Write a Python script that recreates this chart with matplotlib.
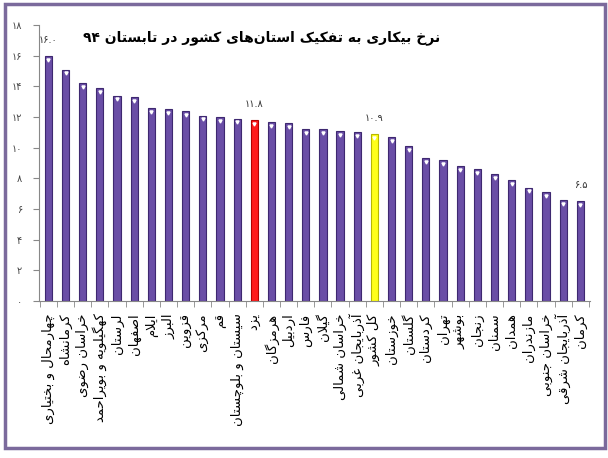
import re
import unicodedata
import numpy as np
import matplotlib
matplotlib.use("Agg")
import matplotlib.pyplot as plt
from matplotlib.patches import Rectangle

title = "نرخ بیکاری به تفکیک استان‌های کشور در تابستان ۹۴"
provinces = [
    "چهارمحال و بختیاری", "کرمانشاه", "خراسان رضوی", "کهگیلویه و بویراحمد",
    "لرستان", "اصفهان", "ایلام", "البرز", "قزوین", "مرکزی", "قم",
    "سیستان و بلوچستان", "یزد", "هرمزگان", "اردبیل", "فارس", "گیلان",
    "خراسان شمالی", "آذربایجان غربی", "کل کشور", "خوزستان", "گلستان",
    "کردستان", "تهران", "بوشهر", "زنجان", "سمنان", "همدان", "مازندران",
    "خراسان جنوبی", "آذربایجان شرقی", "کرمان",
]
rates = [16.0, 15.1, 14.2, 13.9, 13.4, 13.3, 12.6, 12.5, 12.4, 12.1, 12.0,
         11.9, 11.8, 11.7, 11.6, 11.2, 11.2, 11.1, 11.0, 10.9, 10.7, 10.1,
         9.3, 9.2, 8.8, 8.6, 8.3, 7.9, 7.4, 7.1, 6.6, 6.5]
labelled = [0, 12, 19, 31]
yticks = [0, 2, 4, 6, 8, 10, 12, 14, 16, 18]


# matplotlib has no arabic shaping, so do it by hand with presentation forms
def _form(ch, kind):
    try:
        return unicodedata.lookup(unicodedata.name(ch) + " " + kind + " FORM")
    except (KeyError, ValueError):
        return None


def _letter(ch):
    return "\u0600" <= ch <= "\u06ff" and unicodedata.category(ch) == "Lo"


def _dual(ch):
    return _letter(ch) and _form(ch, "INITIAL") is not None


def fa(text):
    chars = list(text)
    n = len(chars)
    out = []
    i = 0
    while i < n:
        c = chars[i]
        if not _letter(c):
            out.append(c)
            i += 1
            continue
        pj = i > 0 and _dual(chars[i - 1])
        if c == "ل" and i + 1 < n and chars[i + 1] in "اآ":
            nm = "ARABIC LIGATURE LAM WITH ALEF"
            if chars[i + 1] == "آ":
                nm += " WITH MADDA ABOVE"
            out.append(unicodedata.lookup(nm + (" FINAL FORM" if pj else " ISOLATED FORM")))
            i += 2
            continue
        nj = _dual(c) and i + 1 < n and _letter(chars[i + 1])
        if pj and nj:
            kind = "MEDIAL"
        elif pj:
            kind = "FINAL"
        elif nj:
            kind = "INITIAL"
        else:
            kind = "ISOLATED"
        out.append(_form(c, kind) or c)
        i += 1
    s = "".join(out).replace("\u200c", "")[::-1]
    return re.sub(r"[0-9۰-۹.]+", lambda m: m.group(0)[::-1], s)


def fa_num(v):
    return str(v).translate(str.maketrans("0123456789", "۰۱۲۳۴۵۶۷۸۹"))


plt.rcParams["font.family"] = ["DejaVu Sans"]

fig = plt.figure(figsize=(6.08, 4.58), dpi=100)
ax = fig.add_axes([0.064, 0.343, 0.906, 0.602])

x = np.arange(len(rates))
colors = ["#6a4ea6"] * len(rates)
edges = ["#3e2870"] * len(rates)
colors[12], edges[12] = "#ff1a1a", "#b30000"
colors[19], edges[19] = "#ffff1a", "#b8b800"
ax.bar(x, rates, width=0.42, color=colors, edgecolor=edges, linewidth=0.8, zorder=2)
ax.plot(x, np.array(rates) - 0.25, "v", color="white", ms=2.2, zorder=3)

for i in labelled:
    ax.annotate(fa_num(f"{rates[i]:.1f}"), (x[i], rates[i]), xytext=(0, 8),
                textcoords="offset points", ha="center", va="bottom",
                fontsize=7, color="#333333")

ax.set_xlim(-0.55, len(rates) - 0.45)
ax.set_ylim(0, 18)
ax.set_yticks(yticks)
ax.set_yticklabels([fa_num(v) for v in yticks], fontsize=7, color="#444444")
ax.set_xticks(x)
ax.set_xticklabels([fa(p) for p in provinces], rotation=90, fontsize=9.5)
ax.set_xticks(np.arange(len(rates) + 1) - 0.5, minor=True)
ax.tick_params(axis="x", which="major", length=0, pad=9)
ax.tick_params(axis="x", which="minor", length=4, color="#888888")
ax.tick_params(axis="y", length=4, color="#888888", pad=8)
for side in ["top", "right"]:
    ax.spines[side].set_visible(False)
for side in ["left", "bottom"]:
    ax.spines[side].set_color("#888888")

fig.text(0.43, 0.918, fa(title), ha="center", va="center",
         fontsize=10, fontweight="bold")

fig.patches.append(Rectangle((5 / 608, 1 - 448 / 458), 600 / 608, 444 / 458,
                             transform=fig.transFigure, fill=False,
                             edgecolor="#7b6a9c", linewidth=2.5))

fig.savefig("out.png", dpi=100)
